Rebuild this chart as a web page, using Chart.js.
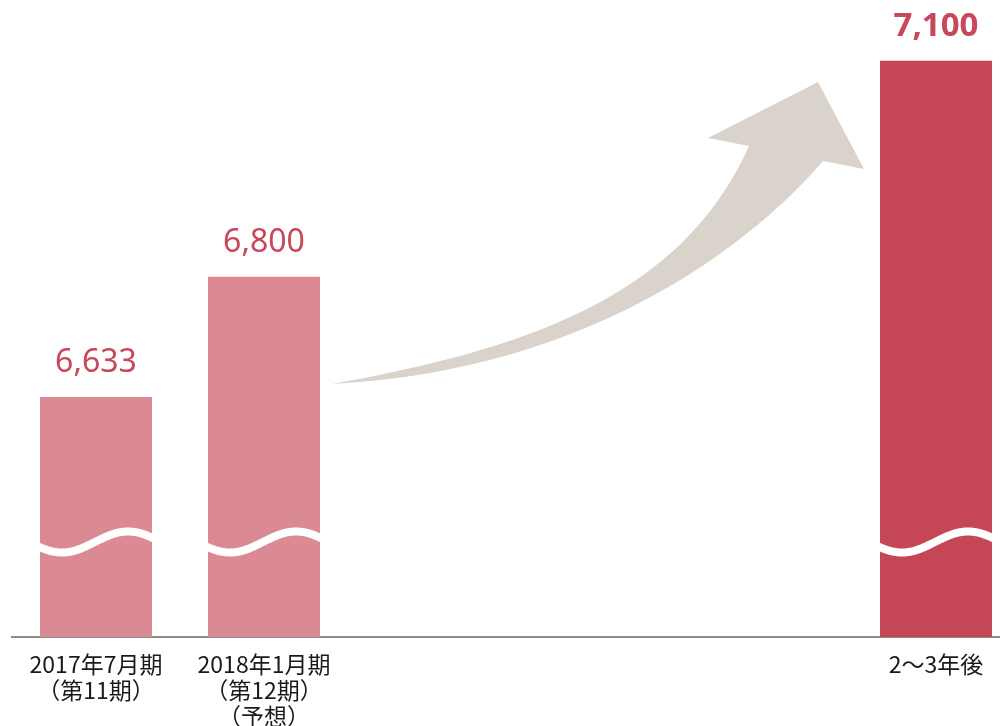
<!DOCTYPE html>
<html><head><meta charset="utf-8">
<script src="https://cdn.jsdelivr.net/npm/chart.js@4/dist/chart.umd.min.js"></script>
<style>
html,body{margin:0;padding:0;background:#fff;overflow:hidden;width:1000px;height:726px}
#wrap{width:1020px;height:726px;position:relative}
</style></head>
<body><div id="wrap"><canvas id="c" width="1020" height="726"></canvas></div>
<script>
const categories = [['2017年7月期','（第11期）'], ['2018年1月期','（第12期）','（予想）'], '', '', '', '2～3年後'];
const values = [6633, 6800, null, null, null, 7100];
const valueLabels = ['6,633', '6,800', '', '', '', '7,100'];
const barColors = ['#db8a93', '#db8a93', '#db8a93', '#db8a93', '#db8a93', '#c54755'];
const labelBold = [false, false, false, false, false, true];
const yMin = 6300, yMax = 7180;

const wavePlugin = {
  id: 'wave',
  afterDatasetsDraw(chart) {
    const ctx = chart.ctx;
    const bottom = chart.chartArea.bottom;
    const meta = chart.getDatasetMeta(0);
    meta.data.forEach((el, i) => {
      if (values[i] == null) return;
      const left = el.x - el.width / 2;
      const cy = bottom - 95;
      ctx.save();
      ctx.beginPath();
      ctx.rect(left, el.y, el.width, bottom - el.y);
      ctx.clip();
      ctx.beginPath();
      for (let dx = -8; dx <= el.width + 8; dx++) {
        const y = cy + 10.5 * Math.cos(2 * Math.PI * (dx - 22) / 132);
        if (dx === -8) ctx.moveTo(left + dx, y); else ctx.lineTo(left + dx, y);
      }
      ctx.strokeStyle = '#ffffff';
      ctx.lineWidth = 8;
      ctx.stroke();
      ctx.restore();
    });
  }
};

const valueLabelPlugin = {
  id: 'valueLabels',
  afterDatasetsDraw(chart) {
    const ctx = chart.ctx;
    const meta = chart.getDatasetMeta(0);
    meta.data.forEach((el, i) => {
      if (values[i] == null) return;
      ctx.save();
      ctx.fillStyle = '#c8475a';
      ctx.textAlign = 'center';
      ctx.textBaseline = 'alphabetic';
      ctx.font = (labelBold[i] ? 'bold 33px' : '32px') + ' "Noto Sans", sans-serif';
      ctx.fillText(valueLabels[i], el.x, el.y - 25);
      ctx.restore();
    });
  }
};

const arrowPlugin = {
  id: 'arrow',
  beforeDatasetsDraw(chart) {
    const ctx = chart.ctx;
    ctx.save();
    ctx.fillStyle = '#d9d3cc';
    ctx.beginPath();
    ctx.moveTo(332, 384);
    ctx.bezierCurveTo(520, 350, 680, 300, 749, 146);
    ctx.lineTo(708, 138);
    ctx.lineTo(818, 82);
    ctx.lineTo(864, 169);
    ctx.lineTo(823, 161);
    ctx.bezierCurveTo(760, 235, 600, 370, 332, 384);
    ctx.closePath();
    ctx.fill();
    ctx.restore();
  }
};

new Chart(document.getElementById('c'), {
  type: 'bar',
  data: {
    labels: categories,
    datasets: [{
      data: values,
      backgroundColor: barColors,
      borderWidth: 0,
      barPercentage: 112 / 168,
      categoryPercentage: 1
    }]
  },
  options: {
    responsive: false,
    animation: false,
    devicePixelRatio: 1,
    layout: { padding: { left: 12, right: 0, top: 3, bottom: 0 } },
    plugins: { legend: { display: false }, tooltip: { enabled: false } },
    scales: {
      x: {
        grid: { display: false, drawTicks: false },
        border: { display: true, color: '#8c8c8c', width: 2 },
        ticks: {
          color: '#1a1a1a',
          font: { family: '"Noto Sans CJK JP", sans-serif', size: 23, lineHeight: 26 / 23 },
          padding: 14,
          maxRotation: 0,
          autoSkip: false
        },
        afterFit(scale) { scale.height = 89; }
      },
      y: { display: false, min: yMin, max: yMax }
    }
  },
  plugins: [arrowPlugin, wavePlugin, valueLabelPlugin]
});
</script>
</body></html>
